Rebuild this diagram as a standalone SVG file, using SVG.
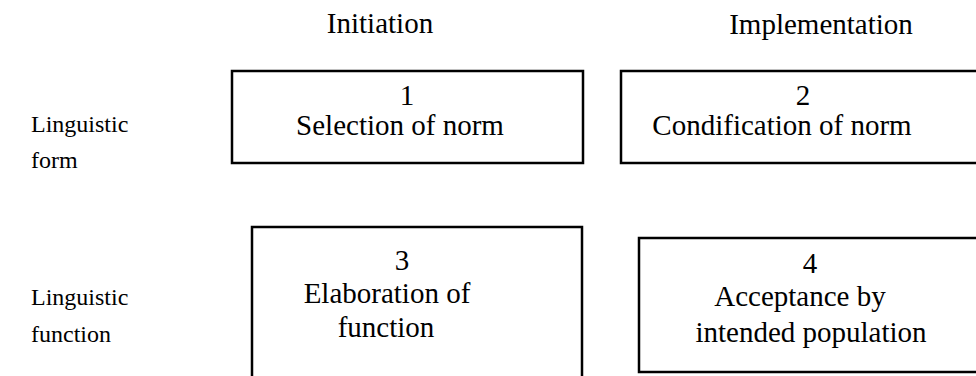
<svg xmlns="http://www.w3.org/2000/svg" width="976" height="376" viewBox="0 0 976 376">
<style>
text{font-family:"Liberation Serif","Times New Roman",serif;fill:#000}
.hd{font-size:29px;text-anchor:middle}
.lb{font-size:24px}
.bx{font-size:29px;text-anchor:middle}
rect{fill:#fff;stroke:#000;stroke-width:2.5}
</style>
<rect x="0" y="0" width="976" height="376" style="stroke:none"/>
<g id="headers">
<text class="hd" x="380" y="33">Initiation</text>
<text class="hd" x="821" y="34">Implementation</text>
</g>
<g id="row-labels">
<text class="lb" x="31" y="132">Linguistic</text>
<text class="lb" x="31" y="168">form</text>
<text class="lb" x="31" y="305">Linguistic</text>
<text class="lb" x="31" y="342">function</text>
</g>
<g id="node1">
<rect x="232" y="71" width="351" height="92"/>
<text class="bx" x="407" y="105">1</text>
<text class="bx" x="400" y="135">Selection of norm</text>
</g>
<g id="node2">
<rect x="621" y="71" width="370" height="92"/>
<text class="bx" x="803" y="105">2</text>
<text class="bx" x="782" y="135">Condification of norm</text>
</g>
<g id="node3">
<rect x="252" y="227" width="330" height="170"/>
<text class="bx" x="402" y="270">3</text>
<text class="bx" x="387" y="303">Elaboration of</text>
<text class="bx" x="386" y="337">function</text>
</g>
<g id="node4">
<rect x="639" y="238" width="350" height="134"/>
<text class="bx" x="810" y="273">4</text>
<text class="bx" x="800" y="306">Acceptance by</text>
<text class="bx" x="811" y="342">intended population</text>
</g>
<g id="connectors"></g>
</svg>
